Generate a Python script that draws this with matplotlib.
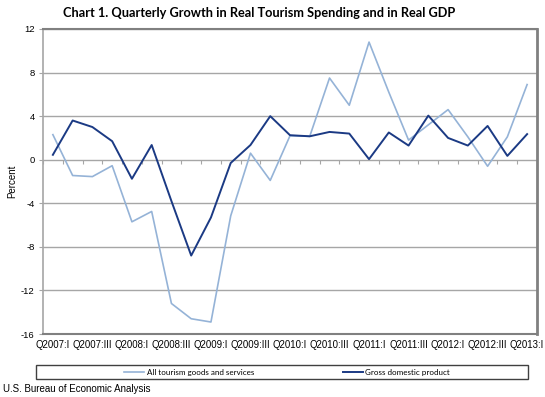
import matplotlib
matplotlib.use("Agg")
import matplotlib.pyplot as plt
from matplotlib.patches import Rectangle
import numpy as np

quarters = ["Q2007:I", "Q2007:II", "Q2007:III", "Q2007:IV",
            "Q2008:I", "Q2008:II", "Q2008:III", "Q2008:IV",
            "Q2009:I", "Q2009:II", "Q2009:III", "Q2009:IV",
            "Q2010:I", "Q2010:II", "Q2010:III", "Q2010:IV",
            "Q2011:I", "Q2011:II", "Q2011:III", "Q2011:IV",
            "Q2012:I", "Q2012:II", "Q2012:III", "Q2012:IV",
            "Q2013:I"]
tourism = [2.3, -1.45, -1.55, -0.55, -5.7, -4.75, -13.2, -14.6, -14.9, -5.15,
           0.6, -1.9, 2.2, 2.15, 7.5, 5.0, 10.8, 6.2, 1.8, 3.2,
           4.6, 2.1, -0.6, 2.1, 6.9]
gdp = [0.45, 3.6, 3.0, 1.7, -1.75, 1.35, -3.8, -8.8, -5.3, -0.3,
       1.35, 4.0, 2.25, 2.15, 2.55, 2.4, 0.05, 2.5, 1.3, 4.05,
       2.0, 1.3, 3.1, 0.35, 2.35]
yticks = [-16, -12, -8, -4, 0, 4, 8, 12]

light = "#95B3D7"
dark = "#1B3A84"
grid_c = "#A6A6A6"
frame_c = "#808080"

fig = plt.figure(figsize=(5.45, 3.97), dpi=100)
ax = fig.add_axes([43/545, (397-334)/397, 494/545, 305/397])
x = np.arange(len(quarters))

ax.plot(x, tourism, color=light, lw=1.2, zorder=3)
ax.plot(x, gdp, color=dark, lw=1.4, zorder=4)

ax.set_xlim(-0.5, len(quarters) - 0.5)
ax.set_ylim(-16, 12)
ax.set_yticks(yticks)
ax.set_yticklabels([str(v) for v in yticks], fontsize=6.8, family="Liberation Sans")
ax.yaxis.grid(True, color=grid_c, lw=1.0)
ax.set_axisbelow(True)
ax.tick_params(axis="y", length=3, color=grid_c, pad=3)

ax.set_xticks(x[::2])
ax.set_xticklabels(quarters[::2], fontsize=6.9, family="Liberation Sans")
ax.tick_params(axis="x", length=0, pad=4)

for s in ["top", "right", "bottom"]:
    ax.spines[s].set_color(frame_c)
    ax.spines[s].set_linewidth(1.5)
ax.spines["right"].set_linewidth(2.0)
ax.spines["left"].set_color(grid_c)
ax.spines["left"].set_linewidth(1.2)

# category axis crossing at zero with tick marks between categories
zero_pos = (0 - (-16)) / (12 - (-16))
sec = ax.secondary_xaxis(zero_pos)
sec.set_xticks(np.arange(-0.5, len(quarters), 1.0))
sec.set_xticklabels([])
sec.tick_params(axis="x", direction="out", length=3, color=grid_c)
sec.xaxis.set_ticks_position("bottom")
sec.spines["bottom"].set_color(grid_c)
sec.spines["bottom"].set_linewidth(1.0)
sec.spines["top"].set_visible(False)

ax.set_ylabel("Percent", fontsize=7, family="Liberation Sans", labelpad=3)

fig.text(259/545, 1 - 13/397,
         "Chart 1. Quarterly Growth in Real Tourism Spending and in Real GDP",
         ha="center", va="center", fontsize=9.2, fontweight="bold", family="Lato")

# legend box
fig.patches.append(Rectangle((36/545, 1 - 379/397), 492/545, 14/397,
                             transform=fig.transFigure, fill=False,
                             edgecolor="#404040", lw=1.0))
fig.legend(["All tourism goods and services", "Gross domestic product"],
           loc="center", bbox_to_anchor=(287/545, 1 - 372/397),
           ncol=2, frameon=False, columnspacing=11,
           handlelength=2.5, handletextpad=0.3, prop={"family": "Lato", "size": 5.8})

fig.text(3/545, 1 - 389/397, "U.S. Bureau of Economic Analysis",
         ha="left", va="center", fontsize=7, family="Liberation Sans")

fig.savefig("out.png", dpi=100)
